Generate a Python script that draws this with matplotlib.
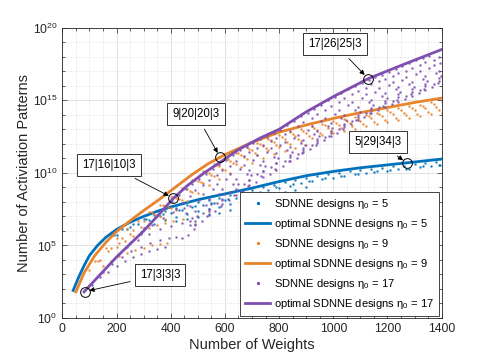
import numpy as np
import matplotlib
matplotlib.use("Agg")
import matplotlib.pyplot as plt
from matplotlib.ticker import FixedLocator, NullFormatter

plt.rcParams['font.family'] = ['Liberation Sans', 'DejaVu Sans']
plt.rcParams['mathtext.default'] = 'regular'

# colours (MATLAB-like)
c_blue = '#0072BD'
c_orange = '#E8842C'
c_purple = '#7E4FB0'

# ---- optimal designs (weights, log10 of activation patterns) ----
blue_opt_w = [40, 60, 80, 100, 130, 160, 200, 250, 300, 350, 400, 450, 500, 550, 600,
              650, 700, 800, 900, 1000, 1100, 1200, 1300, 1400]
blue_opt_exp = [1.9, 2.8, 3.6, 4.3, 5.0, 5.55, 6.1, 6.6, 7.0, 7.35, 7.65, 7.9, 8.15, 8.35, 8.55,
                8.75, 8.95, 9.4, 9.8, 10.1, 10.35, 10.55, 10.75, 10.95]

orange_opt_w = [50, 80, 120, 160, 200, 250, 300, 360, 420, 480, 540, 600, 700, 800, 900,
                1000, 1100, 1200, 1300, 1400]
orange_opt_exp = [1.8, 3.1, 4.3, 5.2, 5.95, 6.7, 7.4, 8.2, 9.05, 9.9, 10.65, 11.25, 12.1, 12.8, 13.3,
                  13.75, 14.15, 14.5, 14.85, 15.15]

purple_opt_w = [80, 120, 160, 200, 250, 300, 350, 410, 460, 520, 580, 650, 730, 800, 900,
                1000, 1130, 1250, 1400]
purple_opt_exp = [1.8, 2.6, 3.4, 4.2, 5.1, 6.0, 7.0, 8.25, 9.1, 9.95, 10.7, 11.6, 12.4, 13.0, 14.2,
                  15.25, 16.5, 17.4, 18.5]

# ---- all SDNNE designs (scatter) ----
blue_sc_w = [180, 220, 260, 300, 340, 380, 420, 460, 500, 540, 580, 620, 660, 700, 740, 780,
             820, 860, 900, 940, 980, 1020, 1060, 1100, 1140, 1180, 1220, 1260, 1300, 1340, 1380,
             200, 240, 280, 320, 360, 400, 440, 480, 520, 560, 600, 640, 680, 720, 760, 800,
             840, 880, 920, 960, 1000, 1040, 1080, 1120, 1160, 1200, 1240, 1280, 1320, 1360, 1395,
             300, 340, 380, 420, 460, 500, 540, 580, 620, 660, 700, 740, 780, 820, 860, 900,
             420, 460, 500, 540, 580, 620, 660, 700, 740, 780,
             190, 250, 310, 370, 430, 490, 550, 610, 670, 730, 790, 850, 910, 970, 1030, 1090,
             1150, 1210, 1270, 1330, 1390]
blue_sc_exp = [5.7, 6.15, 6.5, 6.85, 7.13, 7.38, 7.6, 7.8, 8.0, 8.15, 8.3, 8.5, 8.65, 8.8, 9.0, 9.15,
               9.35, 9.5, 9.65, 9.75, 9.9, 10.0, 10.1, 10.2, 10.3, 10.35, 10.45, 10.5, 10.6, 10.7, 10.75,
               5.7, 6.1, 6.45, 6.75, 7.0, 7.25, 7.45, 7.65, 7.8, 7.95, 8.1, 8.3, 8.45, 8.6, 8.8, 8.95,
               9.1, 9.3, 9.45, 9.55, 9.65, 9.8, 9.9, 10.0, 10.1, 10.15, 10.25, 10.3, 10.4, 10.5, 10.55,
               6.2, 6.5, 6.75, 6.95, 7.15, 7.35, 7.5, 7.65, 7.85, 8.0, 8.15, 8.35, 8.5, 8.7, 8.85, 9.0,
               6.65, 6.8, 6.95, 7.1, 7.25, 7.45, 7.6, 7.75, 7.95, 8.1,
               5.7, 6.3, 6.8, 7.2, 7.45, 7.7, 7.95, 8.2, 8.45, 8.7, 9.0, 9.25, 9.45, 9.65, 9.8, 9.95,
               10.05, 10.2, 10.3, 10.45, 10.55]

orange_sc_w = [120, 160, 200, 240, 280, 320, 360, 400, 440, 480, 520, 560, 600, 640, 680, 720,
               760, 800, 840, 880, 920, 960, 1000, 1040, 1080, 1120, 1160, 1200, 1240, 1280, 1320,
               1360, 1400,
               140, 180, 220, 260, 300, 340, 380, 420, 460, 500, 540, 580, 620, 660, 700, 740,
               780, 820, 860, 900, 940, 980, 1020, 1060, 1100, 1140, 1180, 1220, 1260, 1300, 1340,
               1380,
               320, 360, 400, 440, 480, 520, 560, 600, 640, 680, 720, 760, 800, 840, 880, 920,
               960, 1000, 1040, 1080, 1120, 1160, 1200, 1240, 1280, 1320, 1360, 1400,
               380, 420, 460, 500, 540, 580, 620, 660, 700, 740, 780, 820, 860, 900,
               330, 370, 410, 450, 490, 530, 570, 610, 650, 690, 730, 770, 810, 850, 890, 930,
               970, 1010, 1050, 1090, 1130, 1170, 1210, 1250, 1290, 1330, 1370,
               350, 390, 430, 470, 510, 550, 590, 630, 670, 710, 750, 790, 830, 870, 910, 950,
               990, 1030, 1070, 1110, 1150, 1190, 1230, 1270, 1310, 1350, 1390,
               100, 130, 170, 210, 250, 290,
               150, 180, 210, 240, 270, 300, 330, 360, 385,
               200, 230, 260, 290, 320, 350, 380, 410, 445]
orange_sc_exp = [3.9, 4.8, 5.5, 6.15, 6.7, 7.3, 7.8, 8.35, 8.95, 9.5, 10.1, 10.6, 11.0, 11.4, 11.75, 12.05,
                 12.35, 12.6, 12.8, 13.0, 13.2, 13.4, 13.55, 13.7, 13.85, 14.0, 14.15, 14.3, 14.45, 14.6, 14.7,
                 14.85, 14.95,
                 4.0, 4.8, 5.5, 6.05, 6.65, 7.2, 7.7, 8.3, 8.9, 9.45, 10.0, 10.45, 10.85, 11.25, 11.55, 11.85,
                 12.15, 12.35, 12.55, 12.75, 12.95, 13.1, 13.3, 13.45, 13.6, 13.75, 13.9, 14.05, 14.15, 14.3, 14.45,
                 14.55,
                 6.5, 7.0, 7.55, 8.15, 8.7, 9.3, 9.8, 10.2, 10.6, 10.95, 11.25, 11.55, 11.8, 12.0, 12.2, 12.4,
                 12.6, 12.75, 12.9, 13.05, 13.2, 13.35, 13.5, 13.65, 13.8, 13.9, 14.05, 14.15,
                 6.85, 7.45, 8.05, 8.6, 9.15, 9.6, 10.0, 10.4, 10.7, 11.0, 11.3, 11.5, 11.7, 11.9,
                 7.27, 7.78, 8.35, 8.95, 9.5, 10.07, 10.55, 10.95, 11.35, 11.67, 11.97, 12.25, 12.5, 12.7, 12.9, 13.1,
                 13.29, 13.44, 13.59, 13.74, 13.89, 14.04, 14.19, 14.34, 14.47, 14.59, 14.72,
                 7.08, 7.62, 8.2, 8.76, 9.35, 9.88, 10.3, 10.7, 11.06, 11.38, 11.68, 11.94, 12.15, 12.35, 12.55, 12.75,
                 12.91, 13.06, 13.21, 13.36, 13.51, 13.66, 13.81, 13.96, 14.08, 14.21, 14.32,
                 3.3, 3.9, 4.6, 5.2, 5.8, 6.3,
                 3.6, 3.95, 4.25, 4.5, 4.7, 4.85, 5.0, 5.1, 5.2,
                 4.9, 5.3, 5.65, 5.95, 6.2, 6.4, 6.55, 6.7, 6.8]

purple_arcs_w = [
    [380, 420, 455, 480, 490, 485, 465, 440],
    [430, 470, 505, 530, 540, 535, 515, 490],
    [480, 520, 555, 580, 590, 585, 565, 540],
    [530, 570, 605, 630, 640, 635, 615, 590],
    [580, 620, 655, 680, 690, 685, 665, 640],
    [630, 670, 705, 730, 740, 735, 715, 690],
    [680, 720, 755, 780, 790, 785, 765, 740],
    [730, 770, 805, 830, 840, 835, 815, 790],
    [780, 820, 855, 880, 890, 885, 865, 840],
    [830, 870, 905, 930, 940, 935, 915, 890],
    [880, 920, 955, 980, 990, 985, 965, 940],
    [930, 970, 1005, 1030, 1040, 1035, 1015, 990],
    [980, 1020, 1055, 1080, 1090, 1085, 1065, 1040],
    [1030, 1070, 1105, 1130, 1140, 1135, 1115, 1090],
    [1080, 1120, 1155, 1180, 1190, 1185, 1165, 1140],
    [1130, 1170, 1205, 1230, 1240, 1235, 1215, 1190],
    [1180, 1220, 1255, 1280, 1290, 1285, 1265, 1240],
    [1230, 1270, 1305, 1330, 1340, 1335, 1315, 1290],
    [1280, 1320, 1355, 1380, 1390, 1385, 1365, 1340],
    [1330, 1370, 1395],
    [405, 440, 470, 490, 497, 490, 470],
    [455, 490, 520, 540, 547, 540, 520],
    [505, 540, 570, 590, 597, 590, 570],
    [555, 590, 620, 640, 647, 640, 620],
    [605, 640, 670, 690, 697, 690, 670],
    [655, 690, 720, 740, 747, 740, 720],
    [705, 740, 770, 790, 797, 790, 770],
    [755, 790, 820, 840, 847, 840, 820],
    [805, 840, 870, 890, 897, 890, 870],
    [855, 890, 920, 940, 947, 940, 920],
    [905, 940, 970, 990, 997, 990, 970],
    [955, 990, 1020, 1040, 1047, 1040, 1020],
    [1005, 1040, 1070, 1090, 1097, 1090, 1070],
    [1055, 1090, 1120, 1140, 1147, 1140, 1120],
    [1105, 1140, 1170, 1190, 1197, 1190, 1170],
    [1155, 1190, 1220, 1240, 1247, 1240, 1220],
    [1205, 1240, 1270, 1290, 1297, 1290, 1270],
    [1255, 1290, 1320, 1340, 1347, 1340, 1320],
    [1305, 1340, 1370, 1390, 1397, 1390, 1370],
    [1355, 1390],
    [110, 140, 170, 200, 230, 260, 290, 320, 350, 380],
    [150, 185, 220, 255, 290, 325, 360, 395, 420],
    [200, 240, 280, 320, 360, 400, 440, 470],
    [250, 290, 330, 370, 410, 450],
]
purple_arcs_exp = [
    [7.6, 7.5, 7.25, 6.9, 6.5, 6.1, 5.75, 5.5],
    [8.5, 8.4, 8.15, 7.8, 7.4, 7.0, 6.65, 6.4],
    [9.25, 9.15, 8.9, 8.55, 8.15, 7.75, 7.4, 7.15],
    [9.95, 9.85, 9.6, 9.25, 8.85, 8.45, 8.1, 7.85],
    [10.6, 10.5, 10.25, 9.9, 9.5, 9.1, 8.75, 8.5],
    [11.25, 11.15, 10.9, 10.55, 10.15, 9.75, 9.4, 9.15],
    [11.8, 11.7, 11.45, 11.1, 10.7, 10.3, 9.95, 9.7],
    [12.3, 12.2, 11.95, 11.6, 11.2, 10.8, 10.45, 10.2],
    [12.75, 12.65, 12.4, 12.05, 11.7, 11.35, 11.05, 10.85],
    [13.3, 13.2, 12.95, 12.65, 12.3, 11.95, 11.65, 11.45],
    [13.9, 13.8, 13.55, 13.25, 12.9, 12.55, 12.25, 12.05],
    [14.4, 14.3, 14.05, 13.75, 13.4, 13.05, 12.75, 12.55],
    [15.0, 14.9, 14.65, 14.35, 14.0, 13.65, 13.35, 13.15],
    [15.5, 15.4, 15.15, 14.85, 14.5, 14.15, 13.85, 13.65],
    [15.95, 15.85, 15.6, 15.3, 14.95, 14.6, 14.3, 14.1],
    [16.4, 16.3, 16.05, 15.75, 15.4, 15.05, 14.75, 14.55],
    [16.75, 16.65, 16.4, 16.1, 15.75, 15.4, 15.1, 14.9],
    [17.15, 17.05, 16.8, 16.5, 16.15, 15.8, 15.5, 15.3],
    [17.55, 17.45, 17.2, 16.9, 16.55, 16.2, 15.9, 15.7],
    [17.9, 17.8, 17.55],
    [8.05, 7.95, 7.7, 7.35, 7.0, 6.65, 6.4],
    [8.9, 8.8, 8.55, 8.2, 7.85, 7.5, 7.25],
    [9.6, 9.5, 9.25, 8.9, 8.55, 8.2, 7.95],
    [10.3, 10.2, 9.95, 9.6, 9.25, 8.9, 8.65],
    [10.9, 10.8, 10.55, 10.2, 9.85, 9.5, 9.25],
    [11.55, 11.45, 11.2, 10.85, 10.5, 10.15, 9.9],
    [12.05, 11.95, 11.7, 11.35, 11.0, 10.65, 10.4],
    [12.5, 12.4, 12.15, 11.8, 11.45, 11.1, 10.85],
    [12.95, 12.85, 12.6, 12.25, 11.9, 11.55, 11.3],
    [13.6, 13.5, 13.25, 12.9, 12.55, 12.2, 11.95],
    [14.15, 14.05, 13.8, 13.45, 13.1, 12.75, 12.5],
    [14.7, 14.6, 14.35, 14.0, 13.65, 13.3, 13.05],
    [15.25, 15.15, 14.9, 14.55, 14.2, 13.85, 13.6],
    [15.75, 15.65, 15.4, 15.05, 14.7, 14.35, 14.1],
    [16.2, 16.1, 15.85, 15.5, 15.15, 14.8, 14.55],
    [16.6, 16.5, 16.25, 15.9, 15.55, 15.2, 14.95],
    [16.95, 16.85, 16.6, 16.25, 15.9, 15.55, 15.3],
    [17.35, 17.25, 17.0, 16.65, 16.3, 15.95, 15.7],
    [17.75, 17.65, 17.4, 17.05, 16.7, 16.35, 16.1],
    [18.05, 17.95],
    [2.3, 2.8, 3.2, 3.6, 3.9, 4.2, 4.4, 4.6, 4.75, 4.9],
    [3.2, 3.7, 4.2, 4.6, 4.9, 5.15, 5.35, 5.5, 5.6],
    [4.3, 4.9, 5.4, 5.8, 6.1, 6.35, 6.55, 6.65],
    [5.2, 5.8, 6.4, 6.9, 7.3, 7.6],
]

# highlighted designs
note_labels = ['17|26|25|3', '9|20|20|3', '17|16|10|3', '5|29|34|3', '17|3|3|3']
note_w = [1128, 582, 409, 1272, 82]
note_exp = [16.5, 11.08, 8.26, 10.67, 1.82]

purple_sc_w = [w for arc in purple_arcs_w for w in arc]
purple_sc_exp = [e for arc in purple_arcs_exp for e in arc]

fig = plt.figure(figsize=(4.85, 3.58), dpi=100)
ax = fig.add_axes([0.1285, 0.1117, 0.7822, 0.8109])

p10 = lambda e: 10.0 ** np.asarray(e)

ax.plot(blue_sc_w, p10(blue_sc_exp), '.', color=c_blue, ms=1.8, ls='none', alpha=0.7,
        label=r'SDNNE designs $\eta_0$ = 5')
ax.plot(blue_opt_w, p10(blue_opt_exp), '-', color=c_blue, lw=2.0,
        label=r'optimal SDNNE designs $\eta_0$ = 5')
ax.plot(orange_sc_w, p10(orange_sc_exp), '.', color=c_orange, ms=1.8, ls='none', alpha=0.7,
        label=r'SDNNE designs $\eta_0$ = 9')
ax.plot(orange_opt_w, p10(orange_opt_exp), '-', color=c_orange, lw=2.0,
        label=r'optimal SDNNE designs $\eta_0$ = 9')
ax.plot(purple_sc_w, p10(purple_sc_exp), '.', color=c_purple, ms=1.8, ls='none', alpha=0.7,
        label=r'SDNNE designs $\eta_0$ = 17')
ax.plot(purple_opt_w, p10(purple_opt_exp), '-', color=c_purple, lw=2.0,
        label=r'optimal SDNNE designs $\eta_0$ = 17')

# circles + boxed labels with arrows
ax.plot(note_w, p10(note_exp), 'o', mfc='none', mec='k', ms=7, mew=0.7, ls='none')
box_pos = [(335, 314), (196, 244), (109, 193), (378, 216), (160, 83)]  # figure pixels
for lab, w, e, pos in zip(note_labels, note_w, note_exp, box_pos):
    ax.annotate(lab, xy=(w, 10.0 ** e), xytext=pos, textcoords='figure pixels',
                ha='center', va='center', fontsize=8.3,
                bbox=dict(boxstyle='square,pad=0.45', fc='white', ec='#333333', lw=0.7),
                arrowprops=dict(arrowstyle='-|>', color='k', lw=0.6, mutation_scale=7,
                                shrinkA=3, shrinkB=3.5))

ax.set_yscale('log')
ax.set_xlim(0, 1400)
ax.set_ylim(1, 1e20)
ax.set_xticks(range(0, 1401, 200))
ax.xaxis.set_minor_locator(FixedLocator(range(0, 1401, 50)))
ax.yaxis.set_major_locator(FixedLocator([1e0, 1e5, 1e10, 1e15, 1e20]))
ax.yaxis.set_minor_locator(FixedLocator([10.0 ** k for k in range(21)]))
ax.yaxis.set_minor_formatter(NullFormatter())
ax.set_yticklabels([r'$10^{0}$', r'$10^{5}$', r'$10^{10}$', r'$10^{15}$', r'$10^{20}$'])

ax.grid(True, which='major', color='#dddddd', lw=0.6)
ax.grid(True, which='minor', color='#cfcfcf', lw=0.5, ls=(0, (1, 2)))
ax.set_axisbelow(True)
ax.tick_params(which='both', direction='in', top=True, right=True, labelsize=8.7,
               colors='#262626', width=0.5)
ax.tick_params(which='major', length=3.5)
ax.tick_params(which='minor', length=2)
for s in ax.spines.values():
    s.set_color('#262626')
    s.set_linewidth(0.6)

ax.set_xlabel('Number of Weights', fontsize=10.5, color='#262626', labelpad=2)
ax.set_ylabel('Number of Activiation Patterns', fontsize=10.5, color='#262626', labelpad=1)

leg = ax.legend(loc='lower right', bbox_to_anchor=(0.992, 0.006), borderaxespad=0,
                fontsize=8, fancybox=False, framealpha=1, edgecolor='#262626',
                handlelength=2.3, handletextpad=0.3, labelspacing=0.55, markerscale=1.5,
                borderpad=0.45)
leg.get_frame().set_linewidth(0.6)
for h in leg.legend_handles:
    h.set_alpha(1)

fig.savefig('out.png', dpi=100)
